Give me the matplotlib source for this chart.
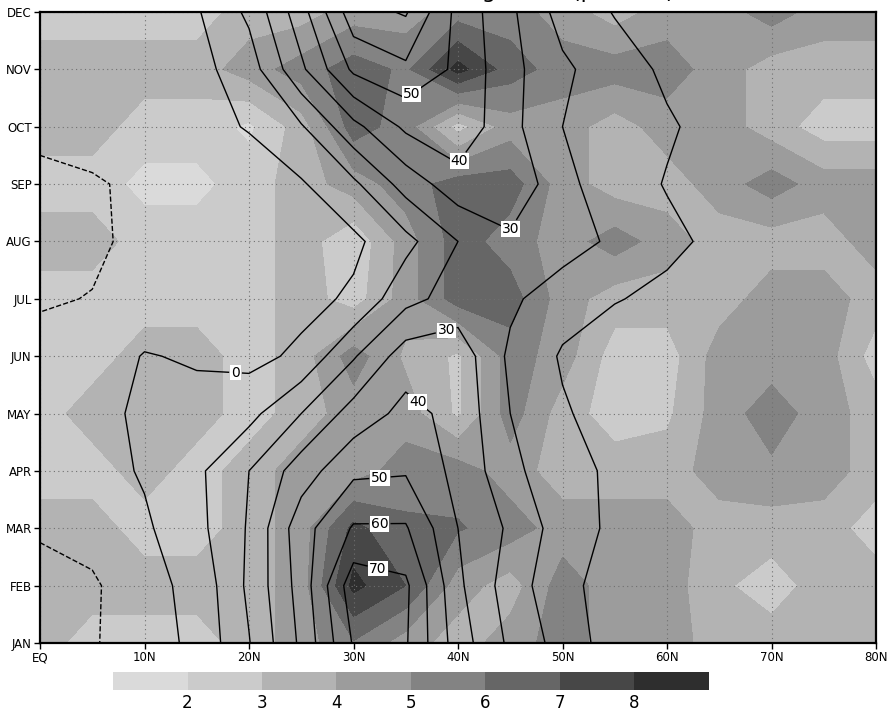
import numpy as np
import matplotlib
matplotlib.use("Agg")
import matplotlib.pyplot as plt
import matplotlib.colorbar as mcolorbar
from matplotlib.colors import ListedColormap, BoundaryNorm

# grid: latitude every 5 degrees, one row per month
lats = [0, 5, 10, 15, 20, 25, 30, 35, 40, 45, 50, 55, 60, 65, 70, 75, 80]
months = ["JAN", "FEB", "MAR", "APR", "MAY", "JUN", "JUL", "AUG", "SEP", "OCT", "NOV", "DEC"]
lat_ticks = [0, 10, 20, 30, 40, 50, 60, 70, 80]
lat_labels = ["EQ", "10N", "20N", "30N", "40N", "50N", "60N", "70N", "80N"]

# contoured field
jet_speed = [
    [-14, -11, -4, 2, 19.5, 42, 71, 71, 45, 28, 16, 5, 4, 4, 3, 3, 3],
    [-13, -11.5, -3, 2.6, 22, 44, 76, 72, 42, 25, 13, 5.5, 4, 4, 3, 3, 3],
    [-9, -6, -1.5, 7, 21, 46, 61, 61, 40, 28.4, 15, 8, 6, 5, 4, 3, 3],
    [-8, -4, 1, 8, 20, 35, 48, 49, 37, 23.5, 11, 9.5, 7, 5, 4, 4, 3],
    [-6, -2.5, 1.5, 3, 7, 20, 34, 43, 37, 20, 11, 6, 5, 4, 4, 3, 3],
    [-8, -5, 0.5, -1, -3, 2, 19, 35, 36, 18, 9, 5, 5, 4, 4, 3, 3],
    [-10.6, -9.8, -6, -4, -3, -3, 1.5, 17, 24, 22, 14, 10.5, 8, 6, 5, 4, 4],
    [-13, -11, -8.5, -6, -5, -4, -2, 7, 20, 28, 25, 18, 12, 8, 6, 5, 5],
    [-12, -11, -8, -5, -4, -1, 8, 24, 36, 38, 23, 14, 9.5, 7, 5, 4, 4],
    [-8, -6, -4, -2.5, 0.5, 9, 27, 42, 47, 33, 20, 14, 11, 7, 5, 4, 4],
    [-6, -5, -4, -3, 5, 28, 52, 58, 48, 33, 22, 14, 8.5, 6, 5, 4, 4],
    [-8, -6, -4, -1, 12, 36, 66, 71, 47, 32, 16, 9.5, 7, 5, 4, 4, 3],
]

# shaded field (grey classes)
shade_val = [
    [3.5, 2.5, 2.5, 2.5, 3.5, 4.5, 5.9, 4.5, 3.5, 4.5, 5.5, 4.5, 4.5, 3.5, 3.5, 3.5, 3.5],
    [3.5, 3.5, 3.5, 3.5, 3.5, 4.5, 8.3, 7.0, 4.5, 3.5, 5.5, 4.5, 4.5, 3.2, 2.5, 3.5, 3.5],
    [3.5, 3.5, 2.5, 2.5, 3.5, 4.5, 7.3, 6.2, 6.1, 5.5, 4.5, 4.5, 4.5, 3.5, 3.5, 3.5, 2.5],
    [2.5, 2.5, 3.5, 2.5, 3.5, 4.5, 4.5, 5.5, 5.5, 4.5, 3.5, 3.5, 3.5, 4.5, 4.8, 4.5, 3.5],
    [2.5, 3.5, 3.5, 3.5, 2.5, 3.5, 4.5, 4.5, 2.8, 5.5, 3.5, 2.5, 2.8, 4.5, 5.5, 4.5, 3.5],
    [2.5, 2.5, 3.5, 3.5, 2.5, 3.5, 5.5, 3.8, 2.8, 5.5, 4.5, 2.5, 2.5, 4.5, 4.5, 4.5, 2.5],
    [2.5, 2.5, 2.5, 2.5, 2.5, 3.5, 2.5, 4.5, 6.5, 6.5, 4.5, 3.5, 3.5, 3.5, 4.5, 4.5, 3.5],
    [3.5, 3.5, 2.5, 2.5, 2.5, 3.5, 2.2, 4.5, 6.5, 5.5, 4.5, 5.5, 4.5, 3.5, 3.5, 3.5, 4.5],
    [2.5, 2.5, 1.7, 1.7, 2.5, 3.5, 4.5, 5.5, 6.5, 6.5, 4.5, 3.5, 3.5, 4.5, 5.5, 4.5, 4.5],
    [3.5, 3.5, 2.5, 2.5, 1.8, 3.5, 6.5, 5.5, 2.6, 4.5, 4.5, 3.5, 4.5, 4.5, 3.5, 2.5, 2.5],
    [3.5, 3.5, 3.5, 3.5, 4.5, 5.5, 6.5, 5.8, 8.4, 6.5, 5.5, 5.5, 5.5, 4.5, 3.5, 3.5, 3.5],
    [2.5, 2.5, 2.5, 2.5, 3.5, 3.5, 4.5, 4.5, 5.5, 5.5, 4.5, 3.5, 4.5, 4.5, 5.5, 4.5, 4.5],
]

shade_levels = [2, 3, 4, 5, 6, 7, 8]
shade_colors = ["#dadada", "#cbcbcb", "#b3b3b3", "#9c9c9c", "#838383", "#666666", "#474747", "#2e2e2e"]
line_levels = [-10, 0, 10, 20, 30, 40, 50, 60, 70]

# where the line labels sit (lat, month index)
label_spots = [(18.7, 4.67), (38.8, 5.51), (36.2, 4.22), (32.5, 2.96), (32.5, 2.2),
               (32.5, 1.41), (36.2, 9.4), (41.3, 8.25), (45.0, 7.22)]

plt.rcParams["font.family"] = ["DejaVu Sans"]

fig = plt.figure(figsize=(8.91, 7.11), dpi=100)
ax = fig.add_axes([40 / 891, 1 - 643 / 711, 836 / 891, 631 / 711])

month_idx = np.arange(len(months))
shade = np.array(shade_val)
jet = np.array(jet_speed)

ax.contourf(lats, month_idx, shade, levels=[0] + shade_levels + [10], colors=shade_colors)
styles = ["dashed" if lev < 0 else "solid" for lev in line_levels]
cs = ax.contour(lats, month_idx, jet, levels=line_levels, colors="black",
                linewidths=1.0, linestyles=styles)
labels = ax.clabel(cs, manual=label_spots, fmt="%d", fontsize=10, inline=True, inline_spacing=2)
for t in labels:
    t.set_rotation(0)
    t.set_bbox(dict(facecolor="white", edgecolor="none", pad=0.6))

ax.set_xlim(0, 80)
ax.set_ylim(0, 11)
ax.set_xticks(lat_ticks)
ax.set_xticklabels(lat_labels)
ax.set_yticks(month_idx)
ax.set_yticklabels(months)
ax.tick_params(direction="out", length=4, width=1, labelsize=8.5, pad=2)
ax.grid(True, linestyle=(0, (1, 3)), color="#707070", linewidth=0.8)
for s in ax.spines.values():
    s.set_linewidth(1.6)

# shading key under the plot
cax = fig.add_axes([113 / 891, 1 - 690 / 711, 596 / 891, 18 / 711])
norm = BoundaryNorm([1] + shade_levels + [9], len(shade_colors))
cb = mcolorbar.ColorbarBase(cax, cmap=ListedColormap(shade_colors), norm=norm,
                            orientation="horizontal", ticks=shade_levels)
cb.outline.set_visible(False)
cb.minorticks_off()
cax.tick_params(which="both", length=0, labelsize=12, pad=3)

# title sits above the crop, only the bottom of it shows (as in the source image)
fig.text(0.569, 1 + 2 / 711, "U200 and avg cover (percent)", ha="center",
         va="baseline", fontsize=16)

fig.savefig("out.png", dpi=100)
